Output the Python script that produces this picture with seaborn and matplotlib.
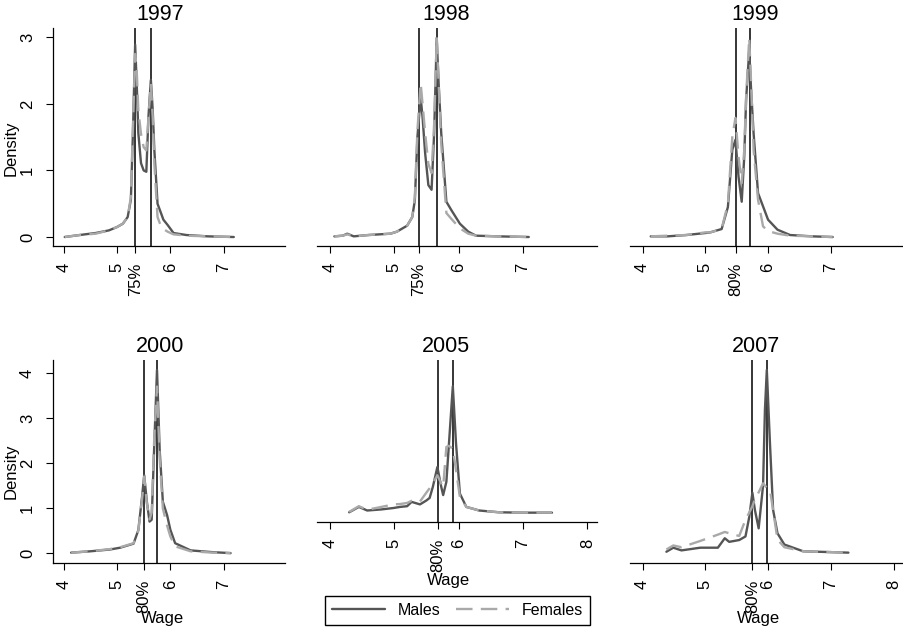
import numpy as np
import pandas as pd
import matplotlib
matplotlib.use("Agg")
import matplotlib.pyplot as plt
from matplotlib.lines import Line2D
import seaborn as sns

# Datos (densidad kernel de log salario por sexo)
years = ["1997", "1998", "1999", "2000", "2005", "2007"]

wage_1997 = [4.02, 4.3, 4.6, 4.85, 5.0, 5.11, 5.2, 5.26, 5.30, 5.34, 5.37, 5.40, 5.45, 5.50,
             5.55, 5.59, 5.635, 5.67, 5.70, 5.76, 5.82, 5.87, 5.95, 6.06, 6.3, 6.7, 7.19]
males_1997 = [0.0, 0.03, 0.06, 0.1, 0.15, 0.2, 0.3, 0.56, 1.6, 2.89, 2.3, 1.56, 1.11, 1.0,
              0.98, 1.81, 2.36, 1.9, 1.31, 0.5, 0.37, 0.26, 0.18, 0.06, 0.03, 0.01, 0.0]
females_1997 = [0.0, 0.03, 0.05, 0.1, 0.15, 0.2, 0.3, 0.6, 1.7, 2.75, 2.5, 1.9, 1.55, 1.35,
                1.3, 1.8, 2.3, 1.8, 1.1, 0.3, 0.17, 0.12, 0.08, 0.04, 0.02, 0.01, 0.0]

wage_1998 = [4.07, 4.2, 4.27, 4.37, 4.6, 4.94, 5.04, 5.2, 5.28, 5.32, 5.36, 5.41, 5.44, 5.48,
             5.53, 5.58, 5.62, 5.66, 5.69, 5.73, 5.81, 5.89, 6.02, 6.15, 6.27, 6.6, 7.09]
males_1998 = [0.01, 0.02, 0.05, 0.01, 0.03, 0.05, 0.08, 0.17, 0.3, 0.55, 1.5, 2.1, 1.8, 1.26,
              0.78, 0.71, 1.56, 2.99, 2.3, 1.56, 0.53, 0.4, 0.2, 0.08, 0.02, 0.01, 0.0]
females_1998 = [0.01, 0.02, 0.04, 0.01, 0.03, 0.05, 0.08, 0.17, 0.3, 0.6, 1.6, 2.31, 2.0, 1.56,
                1.1, 0.96, 1.7, 3.0, 2.3, 1.4, 0.36, 0.27, 0.13, 0.05, 0.02, 0.01, 0.0]

wage_1999 = [4.13, 4.4, 4.7, 5.0, 5.08, 5.26, 5.36, 5.43, 5.48, 5.53, 5.58, 5.62, 5.65, 5.70,
             5.73, 5.77, 5.84, 5.92, 6.0, 6.15, 6.35, 6.7, 7.03]
males_1999 = [0.01, 0.01, 0.03, 0.06, 0.07, 0.12, 0.45, 1.31, 1.46, 0.9, 0.53, 1.2, 2.06, 2.81,
              2.2, 1.55, 0.66, 0.46, 0.26, 0.11, 0.03, 0.01, 0.0]
females_1999 = [0.01, 0.02, 0.03, 0.07, 0.07, 0.12, 0.5, 1.5, 1.79, 1.2, 0.81, 1.3, 2.1, 2.99,
                2.3, 1.3, 0.56, 0.16, 0.09, 0.05, 0.02, 0.01, 0.0]

wage_2000 = [4.14, 4.5, 4.87, 5.06, 5.31, 5.40, 5.47, 5.51, 5.56, 5.61, 5.65, 5.70, 5.75, 5.80,
             5.86, 5.94, 6.0, 6.09, 6.38, 6.8, 7.13]
males_2000 = [0.01, 0.04, 0.08, 0.12, 0.21, 0.51, 1.25, 1.73, 1.14, 0.70, 0.74, 2.44, 4.07, 2.29,
              1.14, 0.84, 0.52, 0.22, 0.06, 0.02, 0.0]
females_2000 = [0.01, 0.04, 0.09, 0.13, 0.22, 0.5, 1.2, 1.7, 1.1, 0.75, 0.9, 2.6, 3.7, 2.1,
                0.99, 0.61, 0.37, 0.15, 0.04, 0.01, 0.0]

wage_2005 = [4.30, 4.45, 4.58, 4.8, 4.99, 5.09, 5.20, 5.27, 5.40, 5.50, 5.55, 5.60, 5.67, 5.73,
             5.76, 5.81, 5.85, 5.91, 5.96, 6.02, 6.12, 6.32, 6.63, 7.0, 7.45]
males_2005 = [0.05, 0.2, 0.1, 0.13, 0.17, 0.2, 0.22, 0.34, 0.27, 0.38, 0.45, 0.76, 1.31, 0.76,
              0.53, 0.9, 1.96, 3.56, 1.96, 0.57, 0.2, 0.1, 0.05, 0.04, 0.04]
females_2005 = [0.06, 0.22, 0.12, 0.2, 0.27, 0.28, 0.31, 0.37, 0.35, 0.6, 0.72, 0.85, 1.08, 0.85,
                0.76, 1.87, 1.9, 1.82, 1.22, 0.48, 0.2, 0.1, 0.05, 0.04, 0.04]

wage_2007 = [4.38, 4.49, 4.62, 4.92, 5.20, 5.31, 5.38, 5.54, 5.64, 5.70, 5.75, 5.79, 5.85, 5.92,
             5.95, 5.98, 6.03, 6.08, 6.15, 6.26, 6.56, 7.28]
males_2007 = [0.03, 0.12, 0.06, 0.12, 0.12, 0.33, 0.25, 0.29, 0.37, 0.8, 1.34, 0.96, 0.55, 1.5,
              3.18, 4.07, 2.44, 0.96, 0.44, 0.19, 0.04, 0.01]
females_2007 = [0.08, 0.17, 0.13, 0.27, 0.41, 0.47, 0.44, 0.38, 0.74, 0.9, 1.04, 1.2, 1.35, 1.55,
                1.5, 1.45, 1.41, 0.96, 0.30, 0.13, 0.04, 0.01]

# lineas verticales (percentil marcado y segunda linea)
pct_line = [5.34, 5.38, 5.49, 5.51, 5.68, 5.75]
pct_label = ["75%", "75%", "80%", "80%", "80%", "80%"]
second_line = [5.64, 5.66, 5.72, 5.75, 5.91, 5.98]

wages = [wage_1997, wage_1998, wage_1999, wage_2000, wage_2005, wage_2007]
males = [males_1997, males_1998, males_1999, males_2000, males_2005, males_2007]
females = [females_1997, females_1998, females_1999, females_2000, females_2005, females_2007]

sns.set_style("ticks")
plt.rcParams['font.family'] = ['Liberation Sans', 'DejaVu Sans']
plt.rcParams.update({"text.color": "black", "axes.labelcolor": "black",
                     "xtick.color": "black", "ytick.color": "black",
                     "axes.edgecolor": "black"})

W, H = 904, 632
fig = plt.figure(figsize=(W / 100, H / 100), dpi=100)

# cajas de cada panel en pixeles: izq, der, arriba, abajo
boxes = [(53, 285, 28, 246), (317, 597, 28, 246), (630, 903, 28, 246),
         (53, 285, 360, 563), (317, 597, 360, 522), (630, 903, 360, 563)]

pal = {"Males": "#555555", "Females": "#a9a9a9"}
dash = {"Males": "", "Females": (7, 3.5)}

for i, yr in enumerate(years):
    l, r, t, b = boxes[i]
    ax = fig.add_axes([l / W, 1 - b / H, (r - l) / W, (b - t) / H])
    df = pd.DataFrame({
        "wage": wages[i] + wages[i],
        "density": males[i] + females[i],
        "sex": ["Males"] * len(wages[i]) + ["Females"] * len(wages[i]),
    })
    ax.axvline(pct_line[i], color="black", lw=1.1, zorder=1)
    ax.axvline(second_line[i], color="black", lw=1.1, zorder=1)
    sns.lineplot(data=df, x="wage", y="density", hue="sex", style="sex",
                 hue_order=["Males", "Females"], palette=pal, dashes=dash,
                 lw=1.7, errorbar=None, legend=False, ax=ax, zorder=2)

    top_row = i < 3
    ax.set_xlim(3.8, 8.15)
    ax.set_ylim((-0.135, 3.14) if top_row else (-0.22, 4.29))

    xt = [4, 5, 6, 7] if i < 4 else [4, 5, 6, 7, 8]
    ax.set_xticks(xt + [pct_line[i]], [str(v) for v in xt] + [pct_label[i]],
                  rotation=90, fontsize=12)
    ax.tick_params(axis="x", direction="out", length=5, width=0.8, pad=7)

    if i in (0, 3):
        yt = [0, 1, 2, 3] if top_row else [0, 1, 2, 3, 4]
        ax.set_yticks(yt, [str(v) for v in yt], rotation=90, va="center", fontsize=12)
        ax.tick_params(axis="y", direction="out", length=5, width=0.8, pad=8)
        ax.set_ylabel("Density", fontsize=12)
        ax.yaxis.set_label_coords(-0.15, 0.45)
        sns.despine(ax=ax)
    else:
        ax.set_yticks([])
        ax.set_ylabel("")
        sns.despine(ax=ax, left=True)
    ax.spines["bottom"].set_linewidth(0.9)
    ax.spines["left"].set_linewidth(0.9)

    if top_row:
        ax.set_xlabel("")
    else:
        ax.set_xlabel("Wage", fontsize=12)
        ax.xaxis.set_label_coords(0.47, -0.315 if i == 4 else -0.235)

    ax.set_title(yr, fontsize=15.5, x=0.46, pad=6)

handles = [Line2D([0], [0], color=pal["Males"], lw=1.7),
           Line2D([0], [0], color=pal["Females"], lw=1.7, dashes=(7, 3.5))]
fig.legend(handles, ["Males", "Females"], loc="center",
           bbox_to_anchor=(457.5 / W, 1 - 610.5 / H), ncol=2, fontsize=11.5,
           frameon=True, fancybox=False, edgecolor="black", framealpha=1,
           handlelength=3.3, handletextpad=0.8, columnspacing=1.0,
           borderpad=0.45)

fig.savefig("out.png", dpi=100)
